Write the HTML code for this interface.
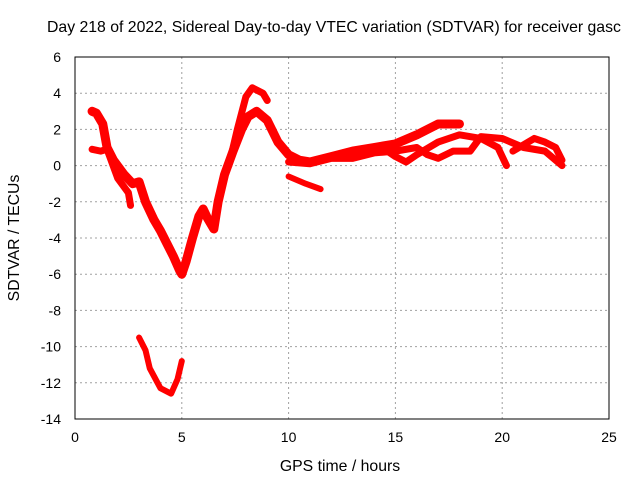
<!DOCTYPE html>
<html><head><meta charset="utf-8"><style>body{margin:0;background:#fff}svg text{font-family:"Liberation Sans",sans-serif;font-size:14px;fill:#000}svg text.big{font-size:15.8px}</style></head>
<body>
<svg id="c" width="640" height="480" xmlns="http://www.w3.org/2000/svg">
<text class="big" x="47" y="32">Day 218 of 2022, Sidereal Day-to-day VTEC variation (SDTVAR) for receiver gasc</text>
<text class="big" x="340" y="471" text-anchor="middle">GPS time / hours</text>
<text class="big" transform="translate(19,238) rotate(-90)" text-anchor="middle">SDTVAR / TECUs</text>
<g id="grid"></g><g id="marks"></g>
<rect x="75" y="57" width="534" height="362" fill="none" stroke="#000" stroke-width="1"/>
</svg>
<script>
const xTicks=[0,5,10,15,20,25];
const yTicks=[6,4,2,0,-2,-4,-6,-8,-10,-12,-14];
const segMainX=[0.8,1.0,1.3,1.5,1.8,2.3,2.7,3.0,3.3,3.7,4.0,4.3,4.6,4.9,5.0,5.2,5.5,5.8,6.0,6.2,6.5,6.7,7.0,7.4,7.8,8.1,8.5,9.0,9.5,10.0,10.5,11.0,12,13,14,15,16,17,18];
const segMainY=[3.0,2.9,2.3,1.0,0.3,-0.5,-1.0,-0.9,-2.0,-3.0,-3.6,-4.3,-5.0,-5.8,-6.0,-5.3,-4.0,-2.8,-2.4,-2.9,-3.5,-2.0,-0.5,0.8,2.0,2.7,3.0,2.5,1.3,0.6,0.3,0.2,0.5,0.8,1.0,1.2,1.7,2.3,2.3];
const segLowBranchX=[0.8,1.2,1.5,2.0,2.5,2.6];
const segLowBranchY=[0.9,0.8,0.9,-0.7,-1.5,-2.2];
const segPeakX=[7.2,7.6,8.0,8.3,8.8,9.0];
const segPeakY=[0.0,2.0,3.8,4.3,4.0,3.6];
const segDropX=[10.0,10.8,11.5];
const segDropY=[-0.6,-1.0,-1.3];
const segStrand2X=[10,11,12,13,14,15,16,16.5,17,17.7,18.5,19,20,21,22,22.8];
const segStrand2Y=[0.2,0.1,0.4,0.4,0.7,0.8,1.0,0.6,0.4,0.8,0.8,1.6,1.5,1.0,0.8,0.0];
const segStrand3X=[14.5,15,15.5,16,17,18,19,19.8,20.2];
const segStrand3Y=[0.9,0.5,0.2,0.6,1.3,1.7,1.5,1.0,0.0];
const segStrand4X=[20.5,21.5,22,22.5,22.8];
const segStrand4Y=[0.8,1.5,1.3,1.0,0.3];
const segBottomX=[3.0,3.3,3.5,4.0,4.5,4.8,5.0];
const segBottomY=[-9.5,-10.2,-11.2,-12.3,-12.6,-11.8,-10.8];
const series=[[segMainX,segMainY,'main-trace',9],[segLowBranchX,segLowBranchY,'low-branch-trace',7],[segPeakX,segPeakY,'peak-trace',7],[segDropX,segDropY,'drop-trace',6],[segStrand2X,segStrand2Y,'strand2-trace',7],[segStrand3X,segStrand3Y,'strand3-trace',7],[segStrand4X,segStrand4Y,'strand4-trace',7],[segBottomX,segBottomY,'bottom-trace',6]];
const L=75,R=609,T=57,B=419;
const sx=v=>L+(v-0)/25*(R-L);
const sy=v=>T+(6-v)/20*(B-T);
const NS='http://www.w3.org/2000/svg';
const grid=document.getElementById('grid'),marks=document.getElementById('marks'),svg=document.getElementById('c');
xTicks.forEach(t=>{
 const x=sx(t);
 if(t>0&&t<25){const g=document.createElementNS(NS,'line');g.setAttribute('x1',x);g.setAttribute('x2',x);g.setAttribute('y1',T);g.setAttribute('y2',B);g.setAttribute('stroke','#a0a0a0');g.setAttribute('stroke-dasharray','2,3');
 
 
 grid.appendChild(g);}
 const tx=document.createElementNS(NS,'text');tx.setAttribute('x',x);tx.setAttribute('y',B+23);tx.setAttribute('text-anchor','middle');tx.textContent=t;
 
 
 svg.appendChild(tx);
});
yTicks.forEach(t=>{
 const y=sy(t);
 if(t<6&&t>-14){const g=document.createElementNS(NS,'line');g.setAttribute('x1',L);g.setAttribute('x2',R);g.setAttribute('y1',y);g.setAttribute('y2',y);g.setAttribute('stroke','#a0a0a0');g.setAttribute('stroke-dasharray','2,3');
 
 
 grid.appendChild(g);}
 const tx=document.createElementNS(NS,'text');tx.setAttribute('x',L-14);tx.setAttribute('y',y+5);tx.setAttribute('text-anchor','end');tx.textContent=t;
 
 
 svg.appendChild(tx);
});
series.forEach(([xs,ys,n,w])=>{
 const p=document.createElementNS(NS,'polyline');
 p.setAttribute('points',xs.map((x,i)=>sx(x)+','+sy(ys[i])).join(' '));
 p.setAttribute('fill','none');p.setAttribute('stroke','#ff0000');p.setAttribute('stroke-width',w);p.setAttribute('stroke-linejoin','round');p.setAttribute('stroke-linecap','round');
 
 
 marks.appendChild(p);
});
</script>
</body></html>
